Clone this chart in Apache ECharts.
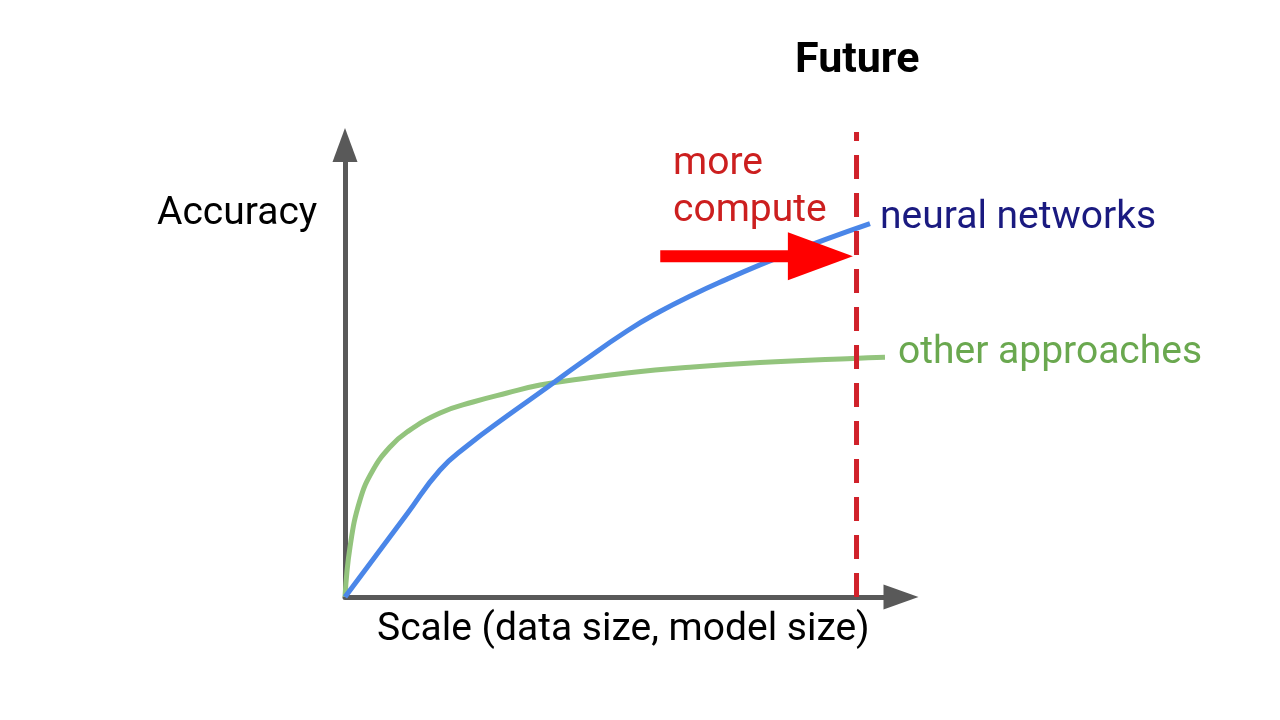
<!DOCTYPE html>
<html>
<head>
<meta charset="utf-8">
<script src="https://cdn.jsdelivr.net/npm/echarts@6/dist/echarts.min.js"></script>
<style>html,body{margin:0;padding:0;background:#fff}#c{width:1280px;height:720px}</style>
</head>
<body>
<div id="c"></div>
<script>
// Series data (x: scale, y: accuracy; arbitrary units 0-100)
const neuralNetworks = [[0,0],[5.04,8.30],[11.15,18.36],[17.09,28.10],[21.94,33.41],[29.14,40.04],[36.33,46.35],[42.27,51.66],[50.72,58.85],[56.65,63.16],[62.59,66.88],[68.71,70.33],[74.64,73.47],[80.58,76.39],[86.69,79.25],[94.42,82.63]];
const otherApproaches = [[0,0],[0.90,11.06],[2.70,21.46],[5.04,28.10],[8.09,33.19],[11.15,36.50],[17.09,40.71],[23.02,43.14],[29.14,45.13],[35.07,46.90],[42.27,48.23],[50.72,49.58],[62.59,50.88],[74.64,51.86],[91.37,52.79],[97.12,53.03]];
const futureLine = [[92,0],[92,102.9]];
const computeArrow = [[56.7,75.4],[85.5,75.4]];
const labels = {
  future: 'Future',
  yName: 'Accuracy',
  xName: 'Scale (data size, model size)',
  compute: 'more\ncompute',
  nn: 'neural networks',
  other: 'other approaches'
};

const chart = echarts.init(document.getElementById('c'));
const font = 'Roboto, "Liberation Sans", sans-serif';
chart.setOption({
  animation: false,
  backgroundColor: '#ffffff',
  grid: {left: 345, right: 379, top: 145, bottom: 123},
  xAxis: {
    type: 'value', min: 0, max: 100,
    axisLine: {show: true, lineStyle: {color: '#595959', width: 5}, symbol: ['none', 'triangle'], symbolSize: [25, 35]},
    axisTick: {show: false}, axisLabel: {show: false}, splitLine: {show: false}
  },
  yAxis: {
    type: 'value', min: 0, max: 100,
    axisLine: {show: true, onZero: false, lineStyle: {color: '#595959', width: 5}, symbol: ['none', 'triangle'], symbolSize: [25, 34]},
    axisTick: {show: false}, axisLabel: {show: false}, splitLine: {show: false}
  },
  graphic: [
    {type: 'text', left: 795, top: 40, style: {text: labels.future, font: 'bold 43px ' + font, fill: '#000'}},
    {type: 'text', left: 157, top: 195, style: {text: labels.yName, font: '39px ' + font, fill: '#000'}},
    {type: 'text', left: 377, top: 611, style: {text: labels.xName, font: '39px ' + font, fill: '#000'}},
    {type: 'text', left: 673, top: 141, style: {text: labels.compute, font: '39px ' + font, fill: '#cc1f1f', lineHeight: 47}},
    {type: 'text', left: 880, top: 199, style: {text: labels.nn, font: '39px ' + font, fill: '#1a1a80'}},
    {type: 'text', left: 898, top: 334, style: {text: labels.other, font: '39px ' + font, fill: '#6aa84f'}}
  ],
  series: [
    {type: 'line', data: otherApproaches, smooth: 0.45, showSymbol: false, clip: false, z: 2,
     lineStyle: {color: '#93c47d', width: 5}},
    {type: 'line', data: neuralNetworks, smooth: 0.5, showSymbol: false, clip: false, z: 3,
     lineStyle: {color: '#4a86e8', width: 5}},
    {type: 'line', data: computeArrow.map((p, i) => i === 0 ? {value: p, symbol: 'none'} : {value: p, symbol: 'triangle', symbolSize: [48, 65], symbolRotate: -90}),
     showSymbol: true, clip: false, z: 4,
     lineStyle: {color: '#ff0000', width: 12, cap: 'butt'}, itemStyle: {color: '#ff0000'}},
    {type: 'line', data: futureLine, showSymbol: false, clip: false, z: 5,
     lineStyle: {color: '#d0212a', width: 5, type: [24, 14]}}
  ]
});
</script>
</body>
</html>
